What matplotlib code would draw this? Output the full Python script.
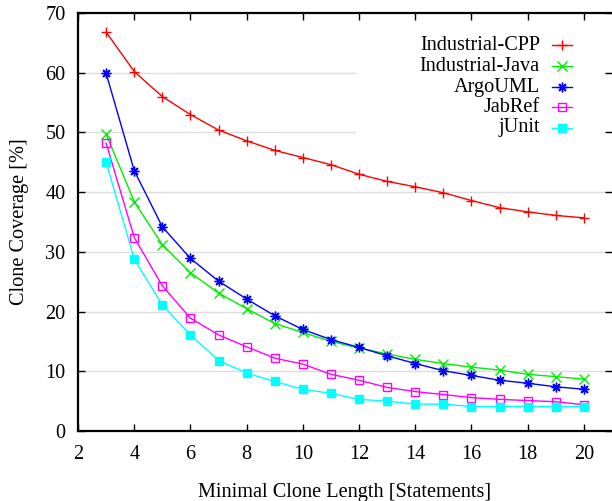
"""Clone coverage vs minimal clone length, gnuplot-style line chart."""
import matplotlib

matplotlib.use("Agg")
import matplotlib.pyplot as plt
from matplotlib.patches import Rectangle

plt.rcParams["font.family"] = ["Liberation Serif", "DejaVu Serif"]
plt.rcParams["font.size"] = 14.6

lengths = list(range(3, 21))
industrial_cpp = [66.8, 60.2, 56.0, 53.0, 50.4, 48.6, 47.0, 45.8, 44.6,
                  43.0, 41.8, 40.9, 39.9, 38.6, 37.4, 36.7, 36.1, 35.7]
industrial_java = [49.7, 38.4, 31.2, 26.5, 23.1, 20.5, 18.0, 16.5, 15.0,
                   13.9, 12.9, 12.0, 11.3, 10.7, 10.2, 9.5, 9.1, 8.7]
argouml = [59.9, 43.6, 34.2, 28.9, 25.1, 22.1, 19.3, 17.0, 15.3,
           14.0, 12.6, 11.3, 10.1, 9.3, 8.5, 8.0, 7.4, 7.0]
jabref = [48.2, 32.4, 24.3, 18.9, 16.1, 14.1, 12.2, 11.2, 9.5,
          8.5, 7.3, 6.6, 6.1, 5.6, 5.3, 5.1, 4.9, 4.4]
junit = [45.0, 28.8, 21.1, 16.1, 11.8, 9.7, 8.3, 7.0, 6.3,
         5.3, 5.0, 4.5, 4.5, 4.1, 4.1, 4.1, 4.1, 4.1]

series = [
    ("Industrial-CPP", industrial_cpp, "#ff0000", "+", "none"),
    ("Industrial-Java", industrial_java, "#00ee00", "x", "none"),
    ("ArgoUML", argouml, "#0000ff", (8, 2, 0), "none"),
    ("JabRef", jabref, "#ff00ff", "s", "none"),
    ("jUnit", junit, "#00ffff", "s", "full"),
]


def msize(mk):
    return 5.5 if mk == "s" else 7


fig = plt.figure(figsize=(6.12, 5.01), dpi=100)
ax = fig.add_axes([0.1275, 0.1397, 0.8725, 0.8343])

for name, vals, col, mk, fill in series:
    mfc = col if fill == "full" else "none"
    ax.plot(lengths, vals, color=col, lw=1.0, marker=mk, ms=msize(mk),
            mfc=mfc, mec=col, mew=1.0, clip_on=False, zorder=3)

ax.set_xlim(2, 21)
ax.set_ylim(0, 70)
ax.set_xticks(range(2, 21, 2))
ax.set_yticks(range(0, 71, 10))
for y in range(10, 70, 10):
    ax.axhline(y, color="#dcdcdc", lw=1.0, zorder=0)

ax.tick_params(direction="in", length=5, width=1.0, top=True, right=True,
               labelsize=14.6, pad=9)
ax.tick_params(axis="x", pad=10)
for s in ("left", "bottom", "top"):
    ax.spines[s].set_linewidth(1.6)
ax.spines["right"].set_visible(False)

ax.set_xlabel("Minimal Clone Length [Statements]", labelpad=14)
ax.set_ylabel("Clone Coverage [%]", labelpad=12)

# gnuplot-style key: right-aligned labels, sample to the right
ax.add_patch(Rectangle((0.52, 0.70), 0.47, 0.265, transform=ax.transAxes,
                       facecolor="white", edgecolor="none", zorder=1))
x_txt, x0, x1 = 0.865, 0.888, 0.925
row_y = [0.923, 0.873, 0.823, 0.775, 0.725]
for (name, vals, col, mk, fill), yy in zip(series, row_y):
    mfc = col if fill == "full" else "none"
    ax.text(x_txt, yy, name, transform=ax.transAxes, ha="right", va="center",
            zorder=4)
    ax.plot([x0, x1], [yy, yy], transform=ax.transAxes, color=col, lw=1.0, zorder=4,
            clip_on=False)
    ax.plot([(x0 + x1) / 2], [yy], transform=ax.transAxes, color=col, marker=mk,
            ms=msize(mk), mfc=mfc, mec=col, mew=1.0, zorder=4, clip_on=False)

fig.savefig("out.png", dpi=100)
